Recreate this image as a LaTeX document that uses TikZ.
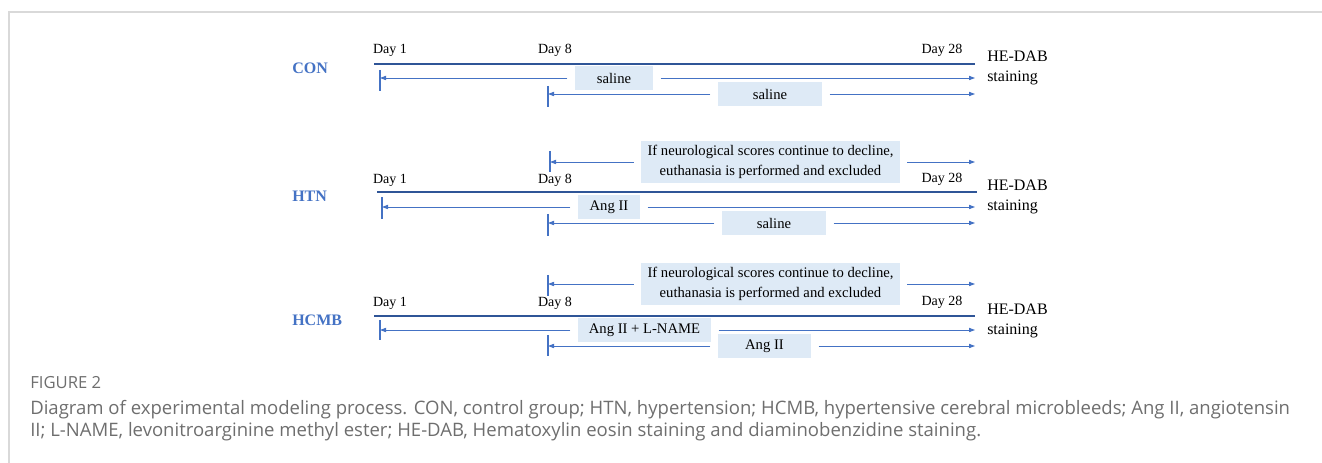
\documentclass[tikz,border=0pt]{standalone}
\usepackage{fontspec}
\setmainfont{Liberation Serif}
\newfontfamily\capfont{Open Sans}
\usepackage{tikz}
\usetikzlibrary{arrows.meta, positioning, calc}
\usepackage{xcolor}
\definecolor{grpblue}{RGB}{68,114,196}
\definecolor{lineblue}{RGB}{47,85,151}
\definecolor{boxblue}{RGB}{222,234,246}
\definecolor{capgray}{RGB}{110,110,110}

\begin{document}
\begin{tikzpicture}[
  x=0.75pt, y=-0.75pt,
  grp/.style={anchor=west, text=grpblue, font=\fontsize{12}{14}\selectfont\bfseries, inner sep=0pt},
  day/.style={font=\fontsize{10.5}{12}\selectfont, inner sep=0pt},
  stain/.style={anchor=west, align=left, font=\fontsize{12}{15}\selectfont, inner sep=0pt},
  dose/.style={fill=boxblue, minimum height=18pt, inner sep=0pt, align=center, font=\fontsize{11}{14.5}\selectfont},
  timeline/.style={lineblue, line width=0.9pt},
  tick/.style={grpblue, line width=0.9pt},
  arrow/.style={-{Triangle[length=4.5pt, width=3.2pt]}, grpblue, line width=0.6pt, shorten <=5.5pt},
]
  \useasboundingbox (0,0) rectangle (1322,463);
  \draw[black!15, line width=1.2pt] (9,463) -- (9,12) -- (1322,12);

  % CON group
  \node[grp] (con) at (292,68) {CON};
  \node[day] (cond1) at (390,50) {Day 1};
  \node[day] (cond8) at (555,50) {Day 8};
  \node[day] (cond28) at (942,50) {Day 28};
  \coordinate (cons) at (374,64);
  \coordinate (cone) at (975,64);
  \draw[timeline] (cons) -- (cone);
  \node[stain] (constain) at (987,68) {HE-DAB\\staining};
  \draw[tick] (380,70) coordinate (cont1a) -- (380,91) coordinate (cont1b);
  \draw[tick] (548,86) coordinate (cont2a) -- (548,107) coordinate (cont2b);
  \node[dose, minimum width=58.5pt] (consal1) at (614,78) {saline};
  \node[dose, minimum width=78pt] (consal2) at (770,94) {saline};
  \draw[arrow] (consal1.west) -- (cont1a |- consal1.west);
  \draw[arrow] (consal1.east) -- (cone |- consal1.east);
  \draw[arrow] (consal2.west) -- (cont2a |- consal2.west);
  \draw[arrow] (consal2.east) -- (cone |- consal2.east);

  % HTN group
  \node[grp] (htn) at (292,196) {HTN};
  \node[day] (htnd1) at (390,180) {Day 1};
  \node[day] (htnd8) at (555,180) {Day 8};
  \node[day] (htnd28) at (942,179) {Day 28};
  \coordinate (htns) at (377,192);
  \coordinate (htne) at (977,192);
  \draw[timeline] (htns) -- (htne);
  \node[stain] (htnstain) at (987,197) {HE-DAB\\staining};
  \draw[tick] (550,151) coordinate (htnt0a) -- (550,172) coordinate (htnt0b);
  \draw[tick] (382,197) coordinate (htnt1a) -- (382,219) coordinate (htnt1b);
  \draw[tick] (548,214) coordinate (htnt2a) -- (548,236) coordinate (htnt2b);
  \node[dose, minimum width=194pt, minimum height=31.5pt] (htnnote) at (770.5,162)
    {If neurological scores continue to decline,\\euthanasia is performed and excluded};
  \node[dose, minimum width=46.5pt] (htnang) at (609,207) {Ang II};
  \node[dose, minimum width=78pt] (htnsal) at (774,223) {saline};
  \draw[arrow] (htnnote.west) -- (htnt0a |- htnnote.west);
  \draw[arrow] (htnnote.east) -- (cone |- htnnote.east);
  \draw[arrow] (htnang.west) -- (htnt1a |- htnang.west);
  \draw[arrow] (htnang.east) -- (cone |- htnang.east);
  \draw[arrow] (htnsal.west) -- (htnt2a |- htnsal.west);
  \draw[arrow] (htnsal.east) -- (cone |- htnsal.east);

  % HCMB group
  \node[grp] (hcmb) at (292,320) {HCMB};
  \node[day] (hcmbd1) at (390,303) {Day 1};
  \node[day] (hcmbd8) at (555,303) {Day 8};
  \node[day] (hcmbd28) at (942,302) {Day 28};
  \coordinate (hcmbs) at (374,316);
  \coordinate (hcmbe) at (975,316);
  \draw[timeline] (hcmbs) -- (hcmbe);
  \node[stain] (hcmbstain) at (987,321) {HE-DAB\\staining};
  \draw[tick] (548,275) coordinate (hcmbt0a) -- (548,296) coordinate (hcmbt0b);
  \draw[tick] (380,320) coordinate (hcmbt1a) -- (380,340) coordinate (hcmbt1b);
  \draw[tick] (548,335) coordinate (hcmbt2a) -- (548,356) coordinate (hcmbt2b);
  \node[dose, minimum width=194pt, minimum height=31pt] (hcmbnote) at (770.5,284)
    {If neurological scores continue to decline,\\euthanasia is performed and excluded};
  \node[dose, minimum width=99.75pt] (hcmbang) at (644.5,330) {Ang II + L-NAME};
  \node[dose, minimum width=69.75pt] (hcmbangb) at (764.5,346) {Ang II};
  \draw[arrow] (hcmbnote.west) -- (hcmbt0a |- hcmbnote.west);
  \draw[arrow] (hcmbnote.east) -- (cone |- hcmbnote.east);
  \draw[arrow] (hcmbang.west) -- (hcmbt1a |- hcmbang.west);
  \draw[arrow] (hcmbang.east) -- (cone |- hcmbang.east);
  \draw[arrow] (hcmbangb.west) -- (hcmbt2a |- hcmbangb.west);
  \draw[arrow] (hcmbangb.east) -- (cone |- hcmbangb.east);

  % caption
  \node[anchor=west, inner sep=0pt, text=capgray, font=\capfont\fontsize{12.5}{14}\selectfont] (figlabel) at (30,383) {FIGURE 2};
  \node[anchor=north west, inner sep=0pt, align=left, text=capgray, font=\capfont\fontsize{13.9}{16.5}\selectfont] (caption) at (30,400)
    {Diagram of experimental modeling process. CON, control group; HTN, hypertension; HCMB, hypertensive cerebral microbleeds; Ang II, angiotensin\\
     II; L-NAME, levonitroarginine methyl ester; HE-DAB, Hematoxylin eosin staining and diaminobenzidine staining.};
\end{tikzpicture}
\end{document}
